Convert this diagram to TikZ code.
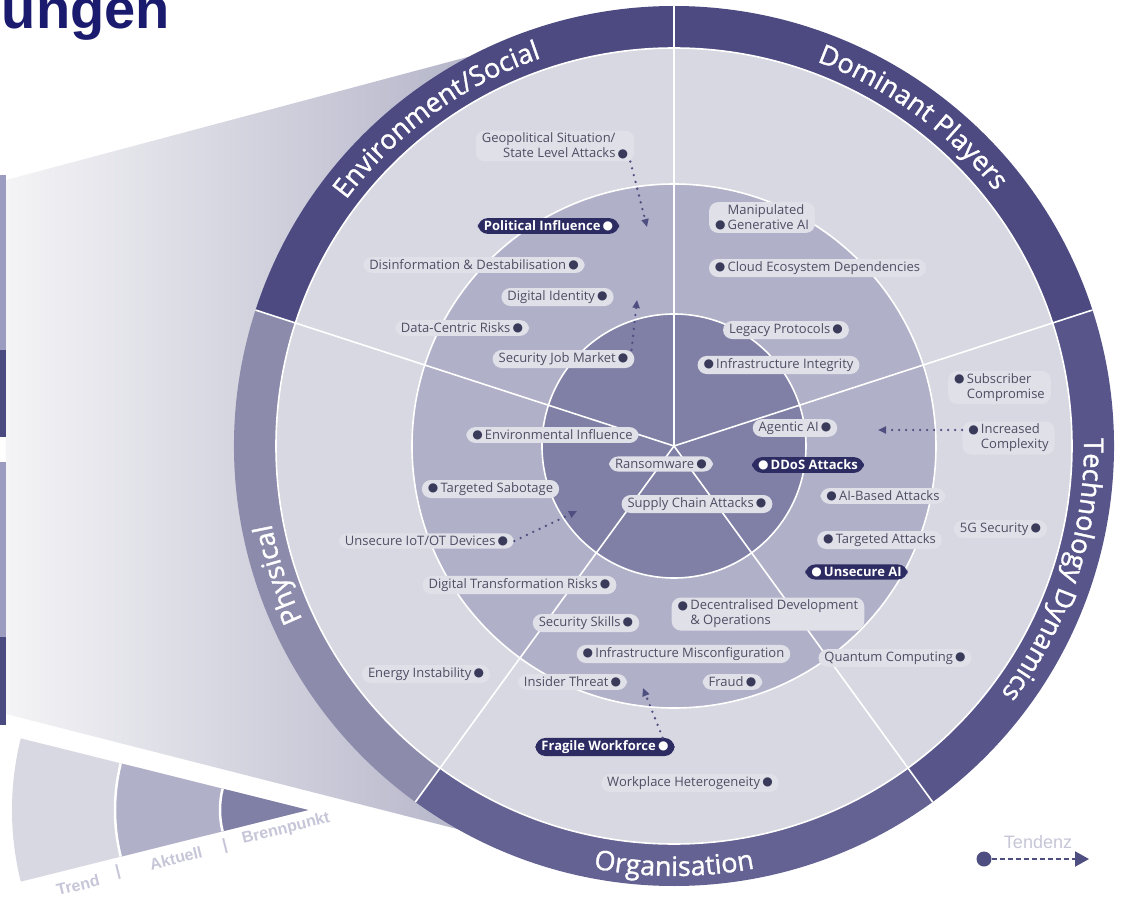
\documentclass[tikz,border=0pt]{standalone}
\usepackage{fontspec}
\usepackage{xcolor}
\setmainfont{Open Sans}
\newfontfamily\bandfont{Open Sans}[FakeBold=1.2]
\newfontfamily\arialfont{Liberation Sans}
\newfontfamily\bulletfont{DejaVu Sans}
\usetikzlibrary{arrows.meta,decorations.text}

\definecolor{bandES}{RGB}{76,74,128}
\definecolor{bandTD}{RGB}{87,85,138}
\definecolor{bandOR}{RGB}{100,98,146}
\definecolor{bandPH}{RGB}{140,139,171}
\definecolor{trendc}{RGB}{216,216,226}
\definecolor{aktc}{RGB}{176,176,200}
\definecolor{brennc}{RGB}{128,127,166}
\definecolor{labelc}{RGB}{224,224,233}
\definecolor{textc}{RGB}{78,78,100}
\definecolor{dotc}{RGB}{58,58,90}
\definecolor{hic}{RGB}{44,43,98}
\definecolor{navy}{RGB}{26,26,110}
\definecolor{legc}{RGB}{198,198,216}
\definecolor{arrc}{RGB}{78,78,128}
\definecolor{funnelL}{RGB}{244,244,246}
\definecolor{funnelR}{RGB}{154,154,183}
\definecolor{barL}{RGB}{156,156,192}
\definecolor{barD}{RGB}{74,74,128}

\newcommand{\bdot}{\raisebox{0.6pt}{\bulletfont\fontsize{12}{12}\selectfont\color{dotc}●}}
\newcommand{\wdot}{\raisebox{0.6pt}{\bulletfont\fontsize{12}{12}\selectfont ●}}

\tikzset{
  trend/.style={rounded corners=9pt,fill=labelc,text=textc,
    font=\fontsize{13}{15}\selectfont,inner xsep=6pt,inner ysep=2.5pt},
  hot/.style={rounded corners=10pt,fill=hic,text=white,
    font=\fontsize{13}{15}\selectfont\bfseries,inner xsep=6pt,inner ysep=2.5pt},
  tendenz/.style={arrc,line width=2.6pt,dash pattern=on 0pt off 7pt,line cap=round,
    -{Triangle[length=8pt,width=7pt]}},
  sep/.style={white,line width=1.6pt},
  band/.style={decorate,decoration={text along path,text align=center,
    text={|\bandfont\fontsize{27}{27}\selectfont\color{white}|#1}}},
  legend/.style={text=legc,font=\arialfont\bfseries\fontsize{16}{16}\selectfont,rotate=14}
}

\begin{document}
\begin{tikzpicture}[x=1pt,y=1pt]
         \useasboundingbox (-674,-454) rectangle (450,446);
         \fill[white] (-674,-454) rectangle (450,446);

         \shade[left color=funnelL,right color=funnelR]
            (-668,266) -- (-154,403) -- (0,0) -- (-154,-399) -- (-668,-268) -- cycle;
         \fill[barL] (-674,271) rectangle (-668,96);
         \fill[barD] (-674,96) rectangle (-668,9);
         \fill[barL] (-674,-16) rectangle (-668,-191);
         \fill[barD] (-674,-191) rectangle (-668,-279);

         \coordinate (wedge) at (-366,-364);
         \fill[trendc] (wedge) -- ++(166:296) arc[start angle=166,end angle=194,radius=296] -- cycle;
         \fill[aktc] (wedge) -- ++(166:193) arc[start angle=166,end angle=194,radius=193] -- cycle;
         \fill[brennc] (wedge) -- ++(166:88) arc[start angle=166,end angle=194,radius=88] -- cycle;
         \draw[white,line width=2.5pt] ([shift={(166:193)}]wedge) arc[start angle=166,end angle=194,radius=193];
         \draw[white,line width=2.5pt] ([shift={(166:88)}]wedge) arc[start angle=166,end angle=194,radius=88];
         \node[legend,name=ltrend] at (-596,-439) {Trend};
         \node[legend,name=lbar1] at (-556,-426) {|};
         \node[legend,name=lakt] at (-498,-412) {Aktuell};
         \node[legend,name=lbar2] at (-449,-400) {|};
         \node[legend,name=lbrenn] at (-388,-383) {Brennpunkt};

         \coordinate (hub) at (0,0);
         \fill[bandES] (hub) -- (90:440) arc[start angle=90,end angle=162,radius=440] -- cycle;
         \fill[bandES] (hub) -- (18:440) arc[start angle=18,end angle=90,radius=440] -- cycle;
         \fill[bandTD] (hub) -- (-54:440) arc[start angle=-54,end angle=18,radius=440] -- cycle;
         \fill[bandOR] (hub) -- (-126:440) arc[start angle=-126,end angle=-54,radius=440] -- cycle;
         \fill[bandPH] (hub) -- (162:440) arc[start angle=162,end angle=234,radius=440] -- cycle;
         \fill[trendc] (hub) circle[radius=398];
         \fill[aktc] (hub) circle[radius=262];
         \fill[brennc] (hub) circle[radius=132];
         \draw[sep] (hub) circle[radius=398];
         \draw[sep] (hub) circle[radius=262];
         \draw[sep] (hub) circle[radius=132];
         \path[sep]
            (hub) edge (18:440)
                  edge (90:440)
                  edge (162:440)
                  edge (234:440)
                  edge (306:440);

         \path[band=Environment/Social] (166:410) arc[start angle=166,end angle=86,radius=410];
         \path[band=Dominant Players] (94:410) arc[start angle=94,end angle=14,radius=410];
         \path[band=Technology Dynamics] (22:410) arc[start angle=22,end angle=-58,radius=410];
         \path[band=Physical] (238:410) arc[start angle=238,end angle=158,radius=410];
         \path[band=Organisation] (-130:430) arc[start angle=-130,end angle=-50,radius=430];

         \node[trend,name=geo,align=right] at (-119,300) {Geopolitical Situation/\phantom{\,\bdot}\\State Level Attacks\,\bdot};
         \node[hot,name=pol] at (-125.5,220) {Political Influence\,\wdot};
         \node[trend,name=dis] at (-200,181) {Disinformation \& Destabilisation\,\bdot};
         \node[trend,name=did] at (-116.5,149) {Digital Identity\,\bdot};
         \node[trend,name=dcr] at (-212,118) {Data-Centric Risks\,\bdot};
         \node[trend,name=sjm] at (-110.5,87) {Security Job Market\,\bdot};
         \node[trend,name=env] at (-121.5,11) {\bdot\,Environmental Influence};

         \node[trend,name=mga,align=left] at (88,228.5) {\phantom{\bdot\,}Manipulated\\\bdot\,Generative AI};
         \node[trend,name=ced] at (143.5,178) {\bdot\,Cloud Ecosystem Dependencies};
         \node[trend,name=lpr] at (112,116) {Legacy Protocols\,\bdot};
         \node[trend,name=iin] at (104.5,81) {\bdot\,Infrastructure Integrity};
         \node[trend,name=sub,align=left] at (325.5,58.5) {\bdot\,Subscriber\\\phantom{\bdot\,}Compromise};
         \node[trend,name=agi] at (121,18) {Agentic AI\,\bdot};
         \node[trend,name=inc,align=left] at (334.5,8) {\bdot\,Increased\\\phantom{\bdot\,}Complexity};

         \node[hot,name=ddos] at (134,-19) {\wdot\,DDoS Attacks};
         \node[trend,name=aib] at (209,-50) {\bdot\,AI-Based Attacks};
         \node[trend,name=tat] at (205.5,-94) {\bdot\,Targeted Attacks};
         \node[hot,name=uai] at (182.5,-126) {\wdot\,Unsecure AI};
         \node[trend,name=gfs] at (326.5,-83) {5G Security\,\bdot};
         \node[trend,name=qco] at (221,-212) {Quantum Computing\,\bdot};

         \node[trend,name=ddo,align=left] at (94,-168) {\bdot\,Decentralised Development\\\phantom{\bdot\,}\& Operations};
         \node[trend,name=imc] at (9.5,-208) {\bdot\,Infrastructure Misconfiguration};
         \node[trend,name=fra] at (58.5,-236) {Fraud\,\bdot};
         \node[trend,name=ith] at (-101.5,-236) {Insider Threat\,\bdot};
         \node[trend,name=ssk] at (-88,-177) {Security Skills\,\bdot};
         \node[trend,name=dtr] at (-154.5,-139) {Digital Transformation Risks\,\bdot};
         \node[hot,name=fwf] at (-69,-301) {Fragile Workforce\,\wdot};
         \node[trend,name=whe] at (16,-337) {Workplace Heterogeneity\,\bdot};

         \node[trend,name=tsa] at (-183.5,-43) {\bdot\,Targeted Sabotage};
         \node[trend,name=iot] at (-247.5,-95) {Unsecure IoT/OT Devices\,\bdot};
         \node[trend,name=ein] at (-248,-228) {Energy Instability\,\bdot};

         \node[trend,name=ran] at (-13,-18) {Ransomware\,\bdot};
         \node[trend,name=sca] at (23,-58) {Supply Chain Attacks\,\bdot};

         \coordinate (geo-t) at (-27,219);
         \coordinate (sjm-t) at (-37,146);
         \coordinate (inc-t) at (204,16);
         \coordinate (iot-t) at (-97,-65);
         \coordinate (fwf-t) at (-31,-242);
         \draw[tendenz] ([xshift=-4pt]geo.south east) -- (geo-t);
         \draw[tendenz] ([xshift=-3pt]sjm.north east) -- (sjm-t);
         \draw[tendenz] ([yshift=8pt]inc.west) -- (inc-t);
         \draw[tendenz] (iot.east) -- (iot-t);
         \draw[tendenz] ([xshift=-12pt]fwf.north east) -- (fwf-t);

         \node[circle,fill=arrc,minimum size=15pt,inner sep=0pt,name=tdot] at (310,-413) {};
         \coordinate (ttip) at (415,-413);
         \draw[arrc,line width=2pt,dash pattern=on 5pt off 3pt,-{Triangle[length=14pt,width=15pt]}] (tdot) -- (ttip);
         \node[text=legc,font=\arialfont\fontsize{18}{18}\selectfont,name=tlabel] at (364,-396) {Tendenz};

         \node[anchor=base east,text=navy,font=\arialfont\bfseries\fontsize{56}{56}\selectfont,inner sep=0pt,name=title] at (-504,417) {ungen};
\end{tikzpicture}
\end{document}
